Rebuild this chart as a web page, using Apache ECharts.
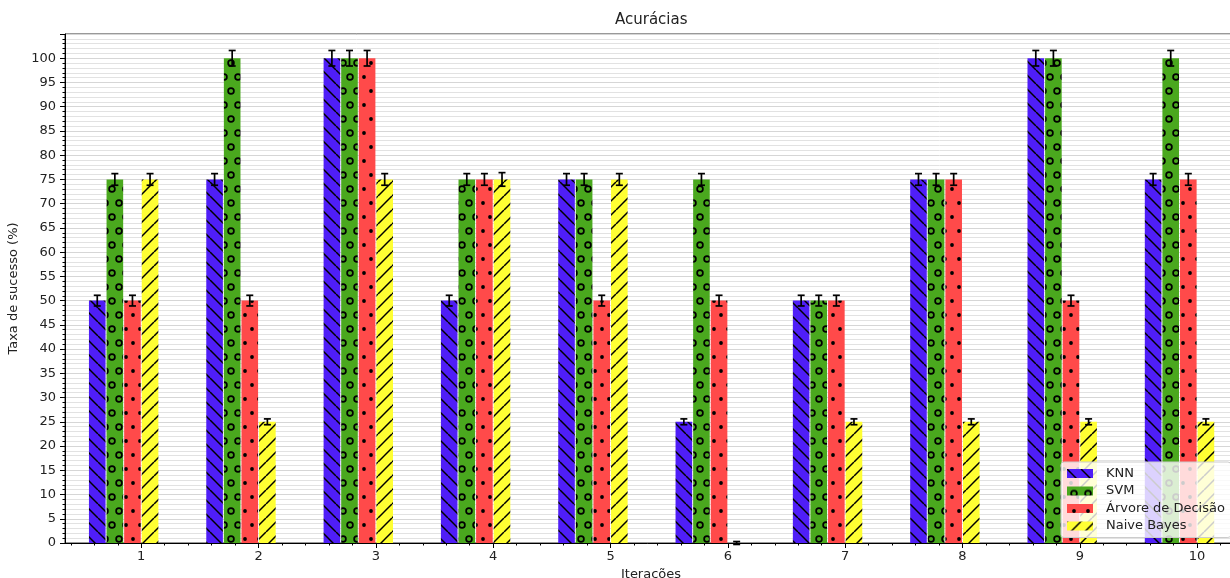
<!DOCTYPE html>
<html>
<head>
<meta charset="utf-8">
<script src="https://cdn.jsdelivr.net/npm/echarts@6/dist/echarts.min.js"></script>
<style>
html, body { margin: 0; padding: 0; background: #fff; overflow: hidden; }
#chart { width: 1230px; height: 578px; }
</style>
</head>
<body>
<div id="chart"></div>
<script>
var iteracoes = [1, 2, 3, 4, 5, 6, 7, 8, 9, 10];
var yTicks = [0, 5, 10, 15, 20, 25, 30, 35, 40, 45, 50, 55, 60, 65, 70, 75, 80, 85, 90, 95, 100];

var knn    = [50, 75, 100, 50, 75, 25, 50, 75, 100, 75];
var svm    = [75, 100, 100, 75, 75, 75, 50, 75, 100, 100];
var arvore = [50, 50, 100, 75, 50, 50, 50, 75, 50, 75];
var bayes  = [75, 25, 75, 75, 75, 0, 25, 25, 25, 25];

// desvios (barras de erro)
var knnErr    = [1.1, 1.2, 1.6, 1.1, 1.2, 0.6, 1.1, 1.2, 1.6, 1.2];
var svmErr    = [1.2, 1.6, 1.6, 1.2, 1.2, 1.2, 1.1, 1.2, 1.6, 1.6];
var arvoreErr = [1.1, 1.1, 1.6, 1.2, 1.1, 1.1, 1.1, 1.2, 1.1, 1.2];
var bayesErr  = [1.2, 0.6, 1.2, 1.4, 1.2, 0.3, 0.6, 0.6, 0.6, 0.6];

var FONT = 'DejaVu Sans';
var BAR_W = 17.6;

// hachuras estilo matplotlib
function hatch(bg, kind) {
    var P = 14;
    var c = document.createElement('canvas');
    c.width = P;
    c.height = (kind === 'o' || kind === '.') ? 2 * P : P;
    var ctx = c.getContext('2d');
    ctx.fillStyle = bg;
    ctx.fillRect(0, 0, c.width, c.height);
    ctx.strokeStyle = '#000';
    ctx.fillStyle = '#000';
    if (kind === '\\' || kind === '/') {
        ctx.lineWidth = 1.5;
        for (var k = -1; k <= 1; k++) {
            ctx.beginPath();
            if (kind === '\\') { ctx.moveTo(k * P, 0); ctx.lineTo(k * P + P, P); }
            else { ctx.moveTo(k * P, P); ctx.lineTo(k * P + P, 0); }
            ctx.stroke();
        }
    } else {
        var pts = [[P / 2, P / 2], [0, 1.5 * P], [P, 1.5 * P]];
        pts.forEach(function (p) {
            ctx.beginPath();
            if (kind === 'o') {
                ctx.lineWidth = 1.7;
                ctx.arc(p[0], p[1], 2.9, 0, Math.PI * 2);
                ctx.stroke();
            } else {
                ctx.arc(p[0], p[1], 1.9, 0, Math.PI * 2);
                ctx.fill();
            }
        });
    }
    return { image: c, repeat: 'repeat' };
}

var minorX = [];
for (var t = 4; t <= 102; t += 2) { if (t % 10) minorX.push(t / 10); }

function barras(name, values, k, color) {
    return {
        name: name,
        type: 'custom',
        itemStyle: { color: color },
        encode: { x: 0, y: 1 },
        data: iteracoes.map(function (it, i) { return [it, values[i]]; }),
        renderItem: function (params, api) {
            var base = api.coord([api.value(0), 0]);
            var top = api.coord([api.value(0), api.value(1)]);
            return {
                type: 'rect',
                shape: { x: base[0] + (k - 3) * BAR_W + 0.5, y: top[1], width: BAR_W - 1, height: base[1] - top[1] },
                style: { fill: api.visual('color') }
            };
        }
    };
}

function erros(name, values, errs, k) {
    return {
        name: name + ' erro',
        type: 'custom',
        z: 5,
        encode: { x: 0, y: 1 },
        data: iteracoes.map(function (it, i) { return [it, values[i], errs[i]]; }),
        renderItem: function (params, api) {
            var v = api.value(1), e = api.value(2);
            var hi = api.coord([api.value(0), v + e]);
            var lo = api.coord([api.value(0), v - e]);
            var x = hi[0] + (k - 2.5) * BAR_W;
            var st = { stroke: '#000', lineWidth: 1.7 };
            return {
                type: 'group',
                children: [
                    { type: 'line', shape: { x1: x, y1: hi[1], x2: x, y2: lo[1] }, style: st },
                    { type: 'line', shape: { x1: x - 3.5, y1: hi[1], x2: x + 3.5, y2: hi[1] }, style: st },
                    { type: 'line', shape: { x1: x - 3.5, y1: lo[1], x2: x + 3.5, y2: lo[1] }, style: st }
                ]
            };
        }
    };
}

var chart = echarts.init(document.getElementById('chart'));
var option = {
    animation: false,
    backgroundColor: '#fff',
    textStyle: { fontFamily: FONT },
    title: {
        text: 'Acurácias',
        left: 615,
        top: 13,
        padding: 0,
        textStyle: { fontFamily: FONT, fontSize: 15, fontWeight: 'normal', color: '#222' }
    },
    legend: {
        data: ['KNN', 'SVM', 'Árvore de Decisão', 'Naive Bayes'],
        orient: 'vertical',
        left: 1061,
        top: 462,
        icon: 'rect',
        itemWidth: 26,
        itemHeight: 9,
        itemGap: 4.5,
        padding: [5, 6],
        backgroundColor: 'rgba(255,255,255,0.8)',
        borderColor: '#ccc',
        borderWidth: 1,
        borderRadius: 3,
        textStyle: { fontFamily: FONT, fontSize: 13, color: '#222', padding: [0, 0, 0, 8] }
    },
    grid: {
        left: 65, right: -7, top: 34, bottom: 35,
        outerBoundsMode: 'none',
        show: true, borderColor: '#333', borderWidth: 1
    },
    xAxis: [
        {
            type: 'value', min: 0.35, max: 10.34, position: 'bottom',
            name: 'Iterações', nameLocation: 'middle', nameGap: 23,
            nameTextStyle: { fontFamily: FONT, fontSize: 13, color: '#222' },
            axisLine: { show: true, lineStyle: { color: '#000', width: 1 } },
            axisTick: { show: true, length: 5, customValues: iteracoes, lineStyle: { color: '#000' } },
            axisLabel: { customValues: iteracoes, fontFamily: FONT, fontSize: 13, color: '#222', margin: 7 },
            splitLine: { show: false }
        },
        {
            type: 'value', min: 0.35, max: 10.34, position: 'bottom',
            axisLine: { show: false },
            axisTick: { show: true, length: 2.5, customValues: minorX, lineStyle: { color: '#000' } },
            axisLabel: { show: false },
            splitLine: { show: false }
        }
    ],
    yAxis: {
        type: 'value', min: 0, max: 105, interval: 5,
        name: 'Taxa de sucesso (%)', nameLocation: 'middle', nameGap: 41,
        nameTextStyle: { fontFamily: FONT, fontSize: 13, color: '#222' },
        axisLine: { show: true, lineStyle: { color: '#000', width: 1 } },
        axisTick: { show: true, length: 5, lineStyle: { color: '#000' } },
        minorTick: { show: true, splitNumber: 5, length: 2.5, lineStyle: { color: '#000' } },
        axisLabel: { customValues: yTicks, fontFamily: FONT, fontSize: 13, color: '#222', margin: 9 },
        splitLine: { show: true, lineStyle: { color: '#d6d6d6', width: 1 } },
        minorSplitLine: { show: true, lineStyle: { color: '#e2e2e2', width: 1 } }
    },
    series: [
        barras('KNN', knn, 0, hatch('#4f1ef7', '\\')),
        barras('SVM', svm, 1, hatch('#4aa81e', 'o')),
        barras('Árvore de Decisão', arvore, 2, hatch('#ff4a4a', '.')),
        barras('Naive Bayes', bayes, 3, hatch('#ffff33', '/')),
        erros('KNN', knn, knnErr, 0),
        erros('SVM', svm, svmErr, 1),
        erros('Árvore de Decisão', arvore, arvoreErr, 2),
        erros('Naive Bayes', bayes, bayesErr, 3)
    ]
};
chart.setOption(option);
window.onresize = chart.resize;
</script>
</body>
</html>
